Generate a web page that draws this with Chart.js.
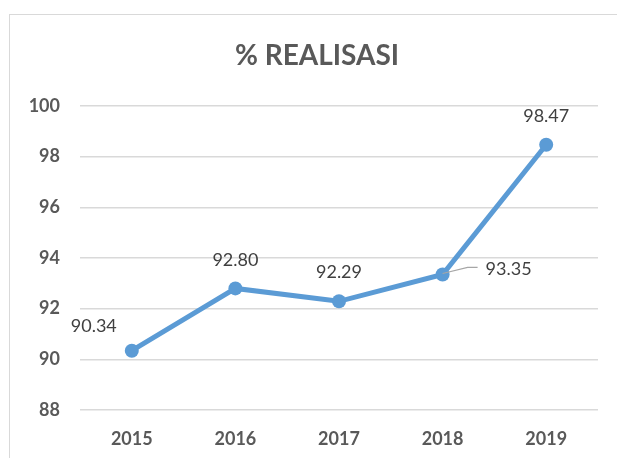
<!DOCTYPE html>
<html>
<head>
<meta charset="utf-8">
<script src="https://cdn.jsdelivr.net/npm/chart.js@4"></script>
<style>
  html, body { margin: 0; padding: 0; background: #ffffff; overflow: hidden; }
  #wrap { position: relative; width: 617px; height: 458px; }
  #frame { position: absolute; left: 9px; top: 14px; width: 700px; height: 600px; border: 1.5px solid #d9d9d9; box-sizing: border-box; }
  canvas { position: absolute; left: 0; top: 0; }
</style>
</head>
<body>
<div id="wrap">
  <div id="frame"></div>
  <canvas id="c" width="617" height="458"></canvas>
</div>
<script>
const chartTitle = "% REALISASI";
const categories = ["2015", "2016", "2017", "2018", "2019"];
const realisasi = [90.34, 92.80, 92.29, 93.35, 98.47];
const yMin = 88;
const yMax = 100;
const yStep = 2;

const FONT = "Lato, 'Open Sans', sans-serif";
const BLUE = "#5b9bd5";

// label placement relative to each point (dx, dy to text baseline, alignment)
const labelPlacement = [
  { dx: -38, dy: -19, align: "center" },
  { dx: 0, dy: -22, align: "center" },
  { dx: 0, dy: -23, align: "center" },
  { dx: 43, dy: 1, align: "left", leader: true },
  { dx: 0, dy: -23, align: "center" }
];

const titlePlugin = {
  id: "titleDraw",
  afterDraw(chart) {
    const ctx = chart.ctx;
    ctx.save();
    ctx.font = "bold 28px " + FONT;
    ctx.fillStyle = "#595959";
    ctx.textAlign = "center";
    ctx.textBaseline = "alphabetic";
    ctx.fillText(chartTitle, 317, 65);
    ctx.restore();
  }
};

const labelPlugin = {
  id: "valueLabels",
  afterDatasetsDraw(chart) {
    const ctx = chart.ctx;
    const meta = chart.getDatasetMeta(0);
    ctx.save();
    ctx.font = "18px " + FONT;
    ctx.fillStyle = "#404040";
    ctx.textBaseline = "alphabetic";
    meta.data.forEach((pt, i) => {
      const p = labelPlacement[i];
      const txt = realisasi[i].toFixed(2);
      if (p.leader) {
        ctx.strokeStyle = "#a6a6a6";
        ctx.lineWidth = 1.2;
        ctx.beginPath();
        ctx.moveTo(pt.x, pt.y - 1);
        ctx.lineTo(pt.x + 25, pt.y - 7);
        ctx.lineTo(pt.x + 35, pt.y - 7);
        ctx.stroke();
      }
      ctx.textAlign = p.align;
      ctx.fillText(txt, pt.x + p.dx, pt.y + p.dy);
    });
    ctx.restore();
  }
};

new Chart(document.getElementById("c"), {
  type: "line",
  data: {
    labels: categories,
    datasets: [{
      data: realisasi,
      borderColor: BLUE,
      backgroundColor: BLUE,
      borderWidth: 5,
      pointRadius: 7,
      pointHoverRadius: 7,
      pointBackgroundColor: BLUE,
      pointBorderColor: BLUE,
      pointBorderWidth: 0,
      tension: 0,
      clip: false
    }]
  },
  options: {
    responsive: false,
    animation: false,
    events: [],
    layout: { padding: { top: 106, right: 19, left: 0, bottom: 0 } },
    plugins: {
      legend: { display: false },
      title: { display: false },
      tooltip: { enabled: false }
    },
    scales: {
      x: {
        offset: true,
        grid: { display: false, drawTicks: false },
        border: { display: false },
        ticks: {
          padding: 18,
          color: "#595959",
          font: { family: FONT, size: 18, weight: "bold" }
        },
        afterFit(scale) { scale.height = 48; }
      },
      y: {
        min: yMin,
        max: yMax,
        grid: { color: "#d9d9d9", lineWidth: 1.5, drawTicks: false },
        border: { display: false },
        ticks: {
          stepSize: yStep,
          padding: 20,
          color: "#595959",
          font: { family: FONT, size: 18, weight: "bold" }
        },
        afterFit(scale) { scale.width = 80; }
      }
    }
  },
  plugins: [titlePlugin, labelPlugin]
});
</script>
</body>
</html>
